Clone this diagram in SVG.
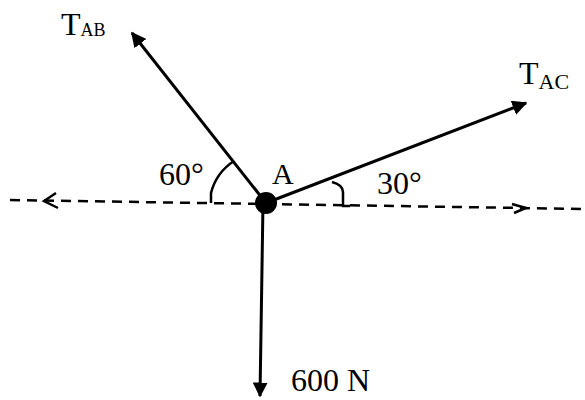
<svg xmlns="http://www.w3.org/2000/svg" width="585" height="400" viewBox="0 0 585 400">
<defs>
<marker id="ah" viewBox="0 0 10 10" refX="9" refY="5" markerWidth="5" markerHeight="5" orient="auto" markerUnits="strokeWidth">
<path d="M0,0 L10,5 L0,10 z" fill="#000"/>
</marker>
</defs>
<style>
.t{font-family:"Liberation Serif",serif;fill:#000}
.f{stroke:#000;stroke-width:3;fill:none}
.d{stroke:#000;stroke-width:2.5;stroke-dasharray:10 7;fill:none}
.a{stroke:#000;stroke-width:2.5;fill:none}
</style>
<rect width="585" height="400" fill="#fff"/>
<g id="connectors">
<path class="d" d="M10,200 L585,209"/>
<path class="a" d="M56,193 L44,201 L58,208"/>
<path class="a" d="M512,204 L526,208 L514,213"/>
<path class="f" d="M266,203 L132,33" marker-end="url(#ah)"/>
<path class="f" d="M266,203 L526,103" marker-end="url(#ah)"/>
<path class="f" d="M263,203 L260,396" marker-end="url(#ah)"/>
<path class="a" d="M211,203 L211,193 A54,54 0 0 1 234,161"/>
<path class="a" d="M350,206 L343,206 L343,192 Q343,185 332,182"/>
</g>
<g id="A">
<circle cx="266" cy="203" r="11" fill="#000"/>
<text class="t" x="272" y="184" font-size="30">A</text>
</g>
<g id="TAB">
<text class="t" x="61" y="35" font-size="32">T<tspan font-size="18" dy="1">AB</tspan></text>
</g>
<g id="TAC">
<text class="t" x="519" y="84" font-size="32">T<tspan font-size="22" dy="5">AC</tspan></text>
</g>
<g id="labels">
<text class="t" x="159" y="185" font-size="32">60°</text>
<text class="t" x="377" y="194" font-size="32">30°</text>
<text class="t" x="291" y="391" font-size="32">600 N</text>
</g>
</svg>
